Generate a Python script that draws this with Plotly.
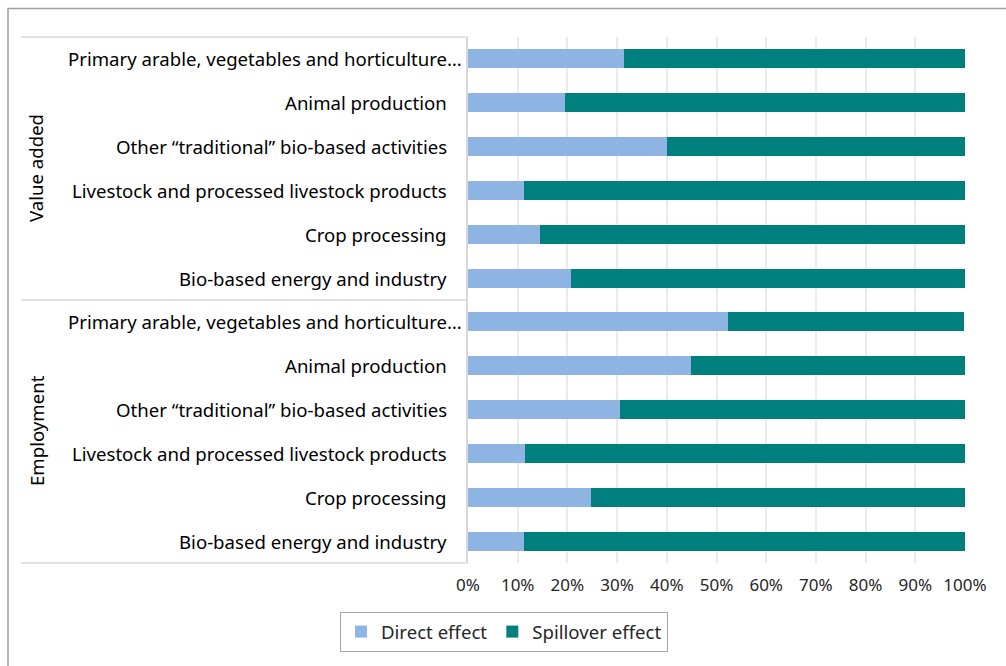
import plotly.graph_objects as go

# Sector labels (top to bottom within each group)
sectors = [
    "Primary arable, vegetables and horticulture…",
    "Animal production",
    "Other “traditional” bio-based activities",
    "Livestock and processed livestock products",
    "Crop processing",
    "Bio-based energy and industry",
]
groups = ["Value added", "Employment"]

# Shares in % of the total effect
direct_value_added = [31.3, 19.6, 40.0, 11.2, 14.5, 20.8]
spillover_value_added = [68.9, 80.4, 60.0, 88.8, 85.5, 79.2]
direct_employment = [52.4, 44.9, 30.5, 11.5, 24.8, 11.3]
spillover_employment = [47.4, 55.1, 69.5, 88.5, 75.2, 88.7]

x_ticks = [0, 10, 20, 30, 40, 50, 60, 70, 80, 90, 100]

FONT = "Noto Sans"
TEXT_COLOR = "#262626"
DIRECT_COLOR = "#8EB4E3"
SPILL_COLOR = "#007F7F"
LABEL_SIZE = 18.6

W, H = 1006, 666
ML, MR, MT, MB = 468, 41, 37, 103

cats = [f"{g}|{s}" for g in groups for s in sectors]
direct = direct_value_added + direct_employment
spill = spillover_value_added + spillover_employment

fig = go.Figure()
fig.add_trace(go.Bar(
    y=cats, x=direct, orientation="h", name="Direct effect",
    marker=dict(color=DIRECT_COLOR, line=dict(width=0)),
))
fig.add_trace(go.Bar(
    y=cats, x=spill, orientation="h", name="Spillover effect",
    marker=dict(color=SPILL_COLOR, line=dict(width=0)),
))

pw = W - ML - MR


def px_to_paper_x(px):
    return (px - ML) / pw


ph = H - MT - MB


def px_to_paper_y(py):
    return 1 - (py - MT) / ph


annotations = []
# Category labels, right aligned next to the axis
for c, (g, s) in zip(cats, [(g, s) for g in groups for s in sectors]):
    truncated = s.endswith("…")
    annotations.append(dict(
        x=px_to_paper_x(464 if truncated else 449), xref="paper",
        y=c, yref="y", text=s, showarrow=False,
        xanchor="right", yanchor="middle",
        font=dict(family=FONT, size=LABEL_SIZE, color="#000000"),
    ))

# Group labels, rotated
for g, yc in zip(groups, [168, 431]):
    annotations.append(dict(
        x=px_to_paper_x(36), xref="paper",
        y=px_to_paper_y(yc), yref="paper", text=g, showarrow=False,
        textangle=-90, xanchor="center", yanchor="middle",
        font=dict(family=FONT, size=LABEL_SIZE, color="#000000"),
    ))

shapes = []
# Separators of the label table
for py in [37, 300, 563]:
    shapes.append(dict(
        type="line", xref="paper", yref="paper",
        x0=px_to_paper_x(21), x1=px_to_paper_x(467.5),
        y0=px_to_paper_y(py), y1=px_to_paper_y(py),
        line=dict(color="#D9D9D9", width=1.5),
    ))
# Outer chart frame
shapes.append(dict(
    type="rect", xref="paper", yref="paper",
    x0=px_to_paper_x(8), x1=px_to_paper_x(1010),
    y0=px_to_paper_y(680), y1=px_to_paper_y(8.5),
    line=dict(color="#A0A0A0", width=1.5), fillcolor="rgba(0,0,0,0)",
    layer="below",
))

fig.update_layout(
    width=W, height=H,
    margin=dict(l=ML, r=MR, t=MT, b=MB, pad=0),
    barmode="stack", bargap=0.565,
    plot_bgcolor="white", paper_bgcolor="white",
    font=dict(family=FONT, size=17, color=TEXT_COLOR),
    xaxis=dict(
        range=[0, 100], tickvals=x_ticks,
        ticktext=[f"{v}%" for v in x_ticks],
        showgrid=True, gridcolor="#EBEBEB", gridwidth=1.5,
        zeroline=False, showline=False, ticks="",
        ticklabelstandoff=10,
        tickfont=dict(family=FONT, size=17, color=TEXT_COLOR),
        fixedrange=True,
    ),
    yaxis=dict(
        categoryorder="array", categoryarray=cats,
        range=[len(cats) - 0.5, -0.5],
        showticklabels=False, showgrid=False, zeroline=False,
        showline=True, linecolor="#D9D9D9", linewidth=1.5, ticks="",
        fixedrange=True,
    ),
    legend=dict(
        orientation="h", x=px_to_paper_x(340), xanchor="left",
        y=px_to_paper_y(612), yanchor="top",
        bordercolor="#A6A6A6", borderwidth=1,
        font=dict(family=FONT, size=18.6, color=TEXT_COLOR),
        traceorder="normal", itemwidth=30,
    ),
    annotations=annotations,
    shapes=shapes,
)

fig.write_html("out.html")
